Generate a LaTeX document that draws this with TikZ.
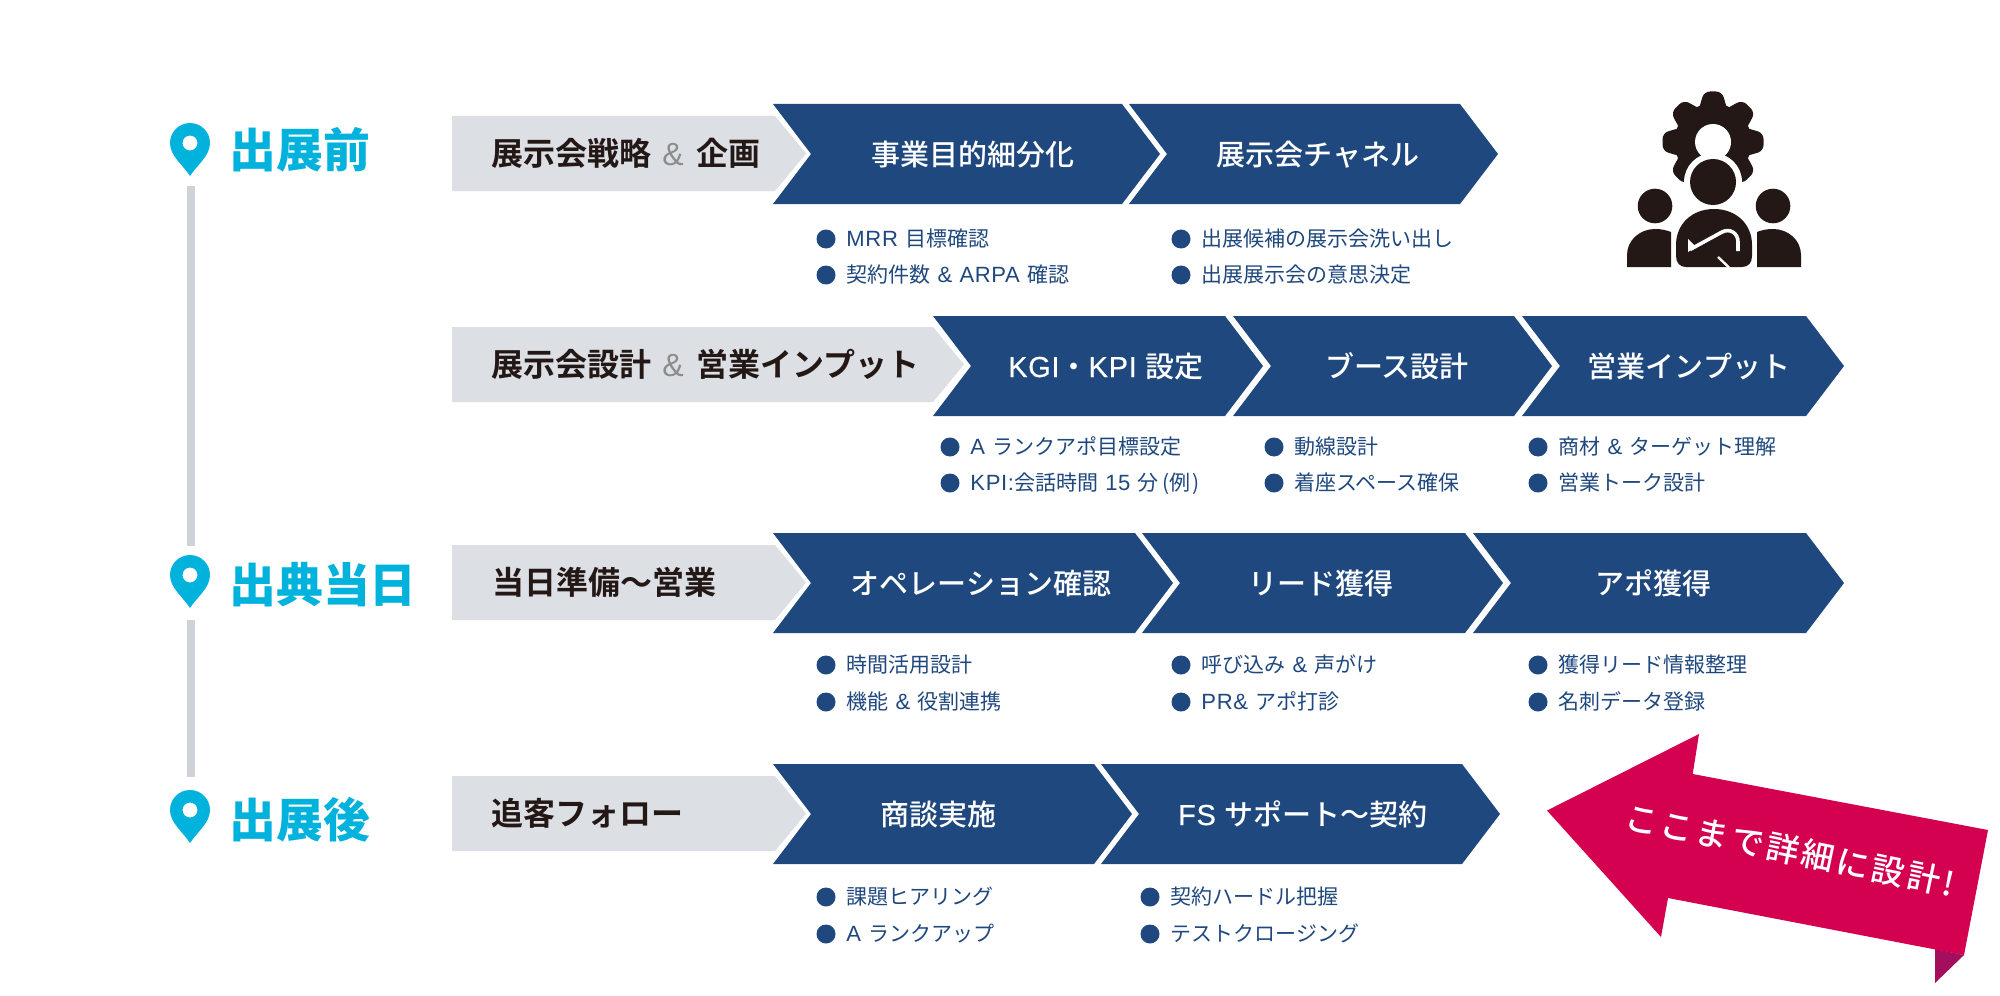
\documentclass[tikz,border=0pt]{standalone}
\usepackage{fontspec}
\setmainfont{Noto Sans CJK JP}
\newfontfamily\medfont{Noto Sans CJK JP Medium}
\newfontfamily\boldfont{Noto Sans CJK JP Bold}
\newfontfamily\blackfont{Noto Sans CJK JP Black}
\newfontfamily\ribfont[LetterSpace=9]{Noto Sans CJK JP Medium}
\newfontfamily\latf[LetterSpace=3,Scale=1.05]{Liberation Sans}
\newfontfamily\latm[LetterSpace=2.5,FakeBold=0.4]{Liberation Sans}
\newfontfamily\latplain{Liberation Sans}
\definecolor{navy}{HTML}{1F487E}
\definecolor{pale}{HTML}{DCDFE4}
\definecolor{ink}{HTML}{231815}
\definecolor{cyanpin}{HTML}{00B2DC}
\definecolor{rail}{HTML}{CFD2D6}
\definecolor{ribbon}{HTML}{D40050}
\definecolor{foldc}{HTML}{A30F5C}
\tikzset{
  lbl/.style={inner sep=0pt,text height=#1*0.88pt,text depth=#1*0.12pt},
  title/.style={lbl=14.5,text=white,font=\medfont\fontsize{14.5}{16}\selectfont},
  grayt/.style={lbl=16,anchor=west,text=ink,font=\boldfont\fontsize{16}{18}\selectfont},
  stage/.style={lbl=23.4,anchor=west,text=cyanpin,font=\blackfont\fontsize{23.4}{25}\selectfont},
  bul/.style={lbl=10.5,anchor=west,text=navy,font=\fontsize{10.5}{12}\selectfont},
  railline/.style={draw=rail,line width=4pt},
}
% dark chevron: name, left, right(top corner), centre y, text centre x, text
\newcommand{\chevbox}[6]{%
  \fill[navy] (#2,#4-50) -- (#3,#4-50) -- (#3+38,#4) -- (#3,#4+50) -- (#2,#4+50) -- (#2+38,#4) -- cycle;
  \node[title] (#1) at (#5,#4) {#6};}
% gray lead box: name, right(top corner), centre y, text
\newcommand{\leadbox}[4]{%
  \fill[pale] (452,#3-37.5) -- (#2,#3-37.5) -- (#2+31,#3) -- (#2,#3+37.5) -- (452,#3+37.5) -- cycle;
  \node[grayt] (#1) at (491,#3) {#4};}
% bullet: name, dot x, y, text
\newcommand{\bulitem}[4]{%
  \fill[navy] (#2+1,#3) circle[radius=9.5];
  \node[bul] (#1) at (#2+21,#3) {#4};}
\newcommand{\pinmark}[2]{%
  \fill[cyanpin,even odd rule] (#1,#2) .. controls (#1-7,#2-11) and (#1-20,#2-20) .. (#1-20,#2-33)
    arc[start angle=180,end angle=360,radius=20]
    .. controls (#1+20,#2-20) and (#1+7,#2-11) .. (#1,#2) -- cycle
    (#1,#2-33) circle[radius=7.5];}
\newcommand{\amp}{{\kern5.5pt\latplain\color{gray!90}\&\kern6.5pt}}
\newcommand{\lat}[1]{{\latf #1}}
\newcommand{\latb}[1]{{\latm #1}}
\newcommand{\gp}{\kern3.6pt}
\begin{document}
\begin{tikzpicture}[x=0.5pt,y=-0.5pt]
\useasboundingbox (0,0) rectangle (2000,995);
\fill[white] (0,0) rectangle (2000,995);

% timeline
\coordinate (r1a) at (190.5,186);
\coordinate (r1b) at (190.5,546);
\coordinate (r2a) at (190.5,620);
\coordinate (r2b) at (190.5,777);
\draw[railline] (r1a) -- (r1b);
\draw[railline] (r2a) -- (r2b);
\pinmark{190}{176}
\pinmark{190}{608}
\pinmark{190}{843}
\node[stage] (s1) at (229,150) {出展前};
\node[stage] (s2) at (229,585) {出典当日};
\node[stage] (s3) at (229,820) {出展後};

% row 1
\leadbox{g1}{775}{153.5}{展示会戦略\amp 企画}
\chevbox{a1}{773}{1122}{154}{973}{事業目的細分化}
\chevbox{a2}{1129}{1460}{154}{1318}{展示会チャネル}
\bulitem{b11}{825}{239}{\lat{MRR}\gp 目標確認}
\bulitem{b12}{825}{275}{契約件数\gp\lat{\&\gp ARPA}\gp 確認}
\bulitem{b13}{1180}{239}{出展候補の展示会洗い出し}
\bulitem{b14}{1180}{275}{出展展示会の意思決定}

% row 2
\leadbox{g2}{933}{364.5}{展示会設計\amp 営業インプット}
\chevbox{a3}{933}{1225}{366}{1106}{\latb{KGI}・\latb{KPI}\kern4.5pt 設定}
\chevbox{a4}{1233}{1514}{366}{1397}{ブース設計}
\chevbox{a5}{1522}{1806}{366}{1689}{営業インプット}
\bulitem{b21}{949}{447}{\lat{A}\gp ランクアポ目標設定}
\bulitem{b22}{949}{483}{\lat{KPI:}会話時間\gp\lat{15}\gp 分\kern2pt(例\kern1pt)}
\bulitem{b23}{1273}{447}{動線設計}
\bulitem{b24}{1273}{483}{着座スペース確保}
\bulitem{b25}{1537}{447}{商材\gp\lat{\&}\gp ターゲット理解}
\bulitem{b26}{1537}{483}{営業トーク設計}

% row 3
\leadbox{g3}{775}{582.5}{\hspace*{0.5pt}当日準備〜営業}
\chevbox{a6}{773}{1135}{583}{981}{オペレーション確認}
\chevbox{a7}{1142}{1465}{583}{1321}{リード獲得}
\chevbox{a8}{1473}{1806}{583}{1653}{アポ獲得}
\bulitem{b31}{825}{665}{時間活用設計}
\bulitem{b32}{825}{702}{機能\gp\lat{\&}\gp 役割連携}
\bulitem{b33}{1180}{665}{呼び込み\gp\lat{\&}\gp 声がけ}
\bulitem{b34}{1180}{702}{\lat{PR\&}\gp アポ打診}
\bulitem{b35}{1537}{665}{獲得リード情報整理}
\bulitem{b36}{1537}{702}{名刺データ登録}

% row 4
\leadbox{g4}{775}{813.5}{追客フォロー}
\chevbox{a9}{773}{1094}{814}{938}{商談実施}
\chevbox{a10}{1101}{1462}{814}{1303}{\latb{FS}\kern4.5pt サポート〜契約}
\bulitem{b41}{825}{897}{課題ヒアリング}
\bulitem{b42}{825}{934}{\lat{A}\gp ランクアップ}
\bulitem{b43}{1149}{897}{契約ハードル把握}
\bulitem{b44}{1149}{934}{テストクロージング}

% ribbon arrow
\fill[foldc] (1935,949) -- (1964,955) -- (1935,983) -- cycle;
\fill[ribbon] (1547,810.5) -- (1699,734) -- (1692.7,774) -- (1988,830) -- (1964,955) -- (1668,898) -- (1661,937) -- cycle;
\node[lbl=16.5,rotate=-11.8,text=white,font=\ribfont\fontsize{16.5}{18}\selectfont] (rb) at (1790,850) {ここまで詳細に設計!};

% icon
\foreach \a in {0,45,...,315}{
  \fill[ink,rotate around={\a:(1713,142)},rounded corners=3pt]
    (1698,112) -- (1704,91.5) -- (1722,91.5) -- (1728,112) -- cycle;
}
\fill[ink] (1713,142) circle[radius=38.5];
\fill[white] (1713,142) circle[radius=18];
\fill[white] (1713,182) circle[radius=29];
\fill[ink] (1713,182) circle[radius=23];
\fill[ink] (1655,206) circle[radius=17.3];
\fill[ink] (1773,206) circle[radius=17.3];
\fill[ink] (1627,267) -- (1627,255) .. controls (1627,240) and (1640,229) .. (1655,229) .. controls (1661,229) and (1666,230) .. (1671,232) -- (1671,267) -- cycle;
\fill[ink] (1801,267) -- (1801,255) .. controls (1801,240) and (1788,229) .. (1773,229) .. controls (1767,229) and (1762,230) .. (1757,232) -- (1757,267) -- cycle;
\fill[ink] (1676,245) .. controls (1676,224) and (1692,209) .. (1714,209) .. controls (1736,209) and (1752,224) .. (1752,245) -- (1752,256) .. controls (1752,263) and (1748,267) .. (1742,267) -- (1686,267) .. controls (1680,267) and (1676,263) .. (1676,256) -- cycle;
\fill[white] (1688,239) -- (1688,252) -- (1696,247) -- cycle;
\draw[white,line width=1.8pt,line join=round] (1690,249.5) -- (1722,232) .. controls (1730,228) and (1738,233) .. (1738,242) -- (1738,251);
\draw[white,line width=1.2pt] (1718,257) -- (1729,267.5);
\end{tikzpicture}
\end{document}
